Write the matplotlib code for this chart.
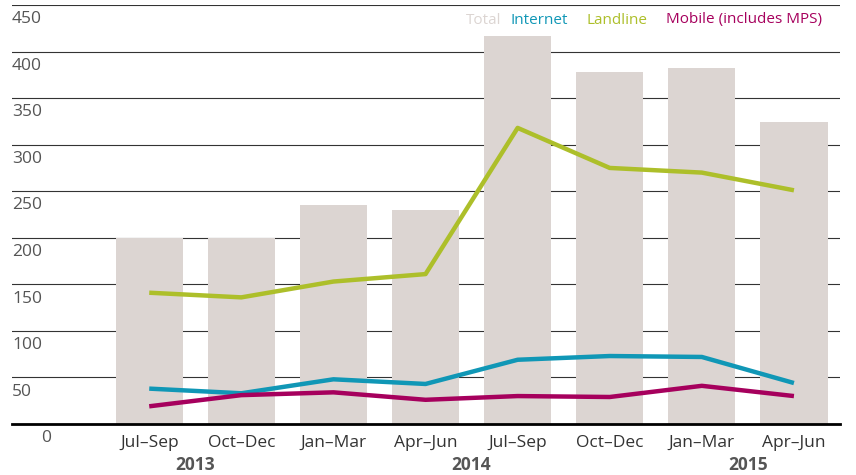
import matplotlib.pyplot as plt
import matplotlib.transforms as mtransforms

plt.rcParams['font.family'] = ['Open Sans', 'DejaVu Sans']

quarters = ['Jul–Sep', 'Oct–Dec', 'Jan–Mar', 'Apr–Jun', 'Jul–Sep', 'Oct–Dec', 'Jan–Mar', 'Apr–Jun']
years = ['2013', '2014', '2015']
year_pos = [0.5, 3.5, 6.5]
total = [200, 200, 235, 230, 417, 378, 382, 324]
landline = [141, 136, 153, 161, 318, 275, 270, 251]
internet = [38, 33, 48, 43, 69, 73, 72, 44]
mobile = [19, 31, 34, 26, 30, 29, 41, 30]

c_total = '#dcd5d2'
c_internet = '#1097b6'
c_landline = '#adbf2a'
c_mobile = '#a6005d'
c_text = '#555555'

fig = plt.figure(figsize=(8.56, 4.75), dpi=100)
ax = fig.add_axes([12/856, 1 - 424/475, 828/856, 419/475])

x = range(len(quarters))
ax.bar(x, total, width=0.73, color=c_total, zorder=1)
ax.plot(x, internet, color=c_internet, lw=3.2, zorder=3, solid_capstyle='butt')
ax.plot(x, landline, color=c_landline, lw=3.2, zorder=3, solid_capstyle='butt')
ax.plot(x, mobile, color=c_mobile, lw=3.2, zorder=3, solid_capstyle='butt')

ax.set_xlim(-1.49, 7.5)
ax.set_ylim(0, 450)
for v in range(50, 451, 50):
    ax.axhline(v, color='#333333', lw=0.8, zorder=0)
ax.axhline(0, color='black', lw=2, zorder=4, clip_on=False)

# y labels sit just under each gridline
off = mtransforms.offset_copy(ax.transData, fig=fig, x=0, y=-4.5, units='points')
lbl_tr = mtransforms.blended_transform_factory(ax.transAxes, off)
for v in range(0, 451, 50):
    ax.text(0.0 if v else 0.035, v, str(v), transform=lbl_tr, ha='left', va='top',
            fontsize=12.5, color=c_text)

for s in ax.spines.values():
    s.set_visible(False)
ax.set_xticks(list(x))
ax.set_xticklabels(quarters, fontsize=12.5, color='#333333')
ax.tick_params(axis='x', length=0, pad=8)
ax.set_yticks([])

yr_tr = mtransforms.blended_transform_factory(ax.transData, ax.transAxes)
for yr, p in zip(years, year_pos):
    ax.text(p, -0.098, yr, transform=yr_tr, ha='center', va='center',
            fontsize=12.5, fontweight='bold', color=c_text)

# legend as coloured words
leg_y = 1 - 20/475
items = [('Total', c_total), ('Internet', c_internet), ('Landline', c_landline),
         ('Mobile (includes MPS)', c_mobile)]
xs = [466, 511, 587, 666]
for (t, c), px in zip(items, xs):
    fig.text(px/856, leg_y, t, color=c, fontsize=11, ha='left', va='center')

fig.savefig('out.png', dpi=100)
